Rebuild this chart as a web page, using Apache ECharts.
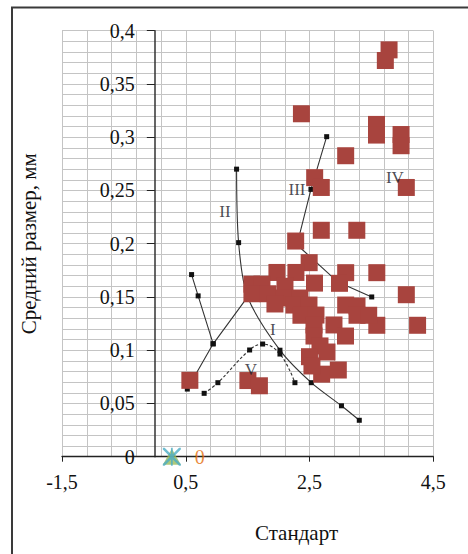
<!DOCTYPE html>
<html><head><meta charset="utf-8">
<script src="https://cdn.jsdelivr.net/npm/echarts/dist/echarts.min.js"></script>
<style>html,body{margin:0;padding:0;background:#fff}#c{width:468px;height:554px}</style>
</head><body><div id="c"></div>
<script>
// ---- data ----
const xAxisTitle = 'Стандарт';
const yAxisTitle = 'Средний размер, мм';
const xMin = -1.5, xMax = 4.5, xStep = 2;
const yMin = 0, yMax = 0.4, yStep = 0.05;

const redSquares = [
  [3.785,0.382],[3.725,0.372],[2.369,0.322],[3.582,0.312],[3.582,0.302],
  [3.979,0.3025],[3.979,0.292],[3.084,0.2826],[2.583,0.262],[2.690,0.2528],
  [4.064,0.2528],[2.690,0.2126],[3.264,0.2126],[2.276,0.2025],[2.494,0.1822],
  [3.084,0.1728],[3.587,0.1728],[4.064,0.1521],[4.246,0.1234],[2.984,0.1628],
  [3.587,0.1234],[0.566,0.0717],[1.504,0.0715],[1.690,0.0666],
  [1.973,0.173],[2.280,0.173],[1.569,0.162],[1.731,0.162],[2.103,0.160],
  [2.580,0.163],[1.569,0.153],[1.828,0.153],[2.086,0.149],[2.345,0.149],
  [1.941,0.1434],[2.248,0.1424],[2.491,0.1424],[3.084,0.1424],[3.267,0.1415],
  [2.361,0.1328],[2.604,0.133],[3.267,0.1328],[3.456,0.1328],[2.572,0.1237],
  [2.895,0.1237],[2.572,0.1133],[3.081,0.1133],[2.669,0.104],[2.499,0.0939],
  [2.782,0.0983],[2.696,0.0775],[2.965,0.0814],[2.539,0.0852]
];
const curveII_I = [[1.321,0.270],[1.354,0.201],[1.50,0.150],[2.022,0.100],[2.528,0.0695],[3.016,0.0478],[3.304,0.0342]];
const curveLeftA = [[0.594,0.171],[0.700,0.151],[0.943,0.106]];
const curveLeftB = [[0.525,0.0635],[0.943,0.106],[1.50,0.150]];
const curveIII = [[2.777,0.3005],[2.523,0.251],[2.297,0.199],[2.96,0.164],[3.505,0.150]];
const curveV = [[0.797,0.0595],[1.019,0.0695],[1.532,0.1002],[1.742,0.1058],[2.022,0.0964],[2.264,0.0695]];
const zeroPoint = [[0.275,0]];
const curveNames = ['I','II','III','IV','V'];
const curveNameX = [1.908,1.132,2.297,3.88,1.553];
const curveNameY = [0.119,0.2298,0.251,0.2626,0.0823];

// ---- chart ----
const serif = "'Liberation Serif', 'Times New Roman', serif";
const fmt = v => String(Number(v.toFixed(2))).replace('.', ',');
const gridColor = '#c4c4c4';
const gridLeft = 62, gridRight = 34.7;
const plotW = 468 - gridLeft - gridRight;
// y axis crosses the x axis at x = 0
const yAxisShift = -plotW * (0 - xMin) / (xMax - xMin);
const chart = echarts.init(document.getElementById('c'), null, {renderer:'svg'});

const lineSeries = (data, smooth, dashed) => ({
  type:'line', data, smooth: smooth, symbol:'rect', symbolSize:5,
  itemStyle:{color:'#111'},
  lineStyle:{color:'#333', width:1.1, type: dashed ? [3,2] : 'solid'},
  z:2, silent:true
});

const asterisk = 'path://M0,0L2,0L10,8L18,0L20,0L20,2L12,10L20,18L20,20L18,20L10,12L2,20L0,20L0,18L8,10L0,2Z M9,0L11,0L11,20L9,20Z';

chart.setOption({
  animation:false,
  backgroundColor:'#fff',
  grid:{left:gridLeft, right:gridRight, top:30.7, bottom:97.3, containLabel:false, outerBoundsMode:'none'},
  xAxis:{
    type:'value', min:xMin, max:xMax, interval:xStep,
    axisLine:{show:true, onZero:true, lineStyle:{color:'#222', width:1.3}},
    axisTick:{show:true, length:5, lineStyle:{color:'#222'}},
    axisLabel:{margin:15, fontFamily:serif, fontSize:20, color:'#111', formatter:fmt},
    splitLine:{show:true, lineStyle:{color:gridColor, width:1}},
    minorTick:{show:false, splitNumber:5},
    minorSplitLine:{show:true, lineStyle:{color:gridColor, width:1}}
  },
  yAxis:{
    type:'value', min:yMin, max:yMax, interval:yStep, offset:yAxisShift,
    name:yAxisTitle, nameLocation:'middle', nameRotate:90, nameGap:115,
    nameTextStyle:{fontFamily:serif, fontSize:21, color:'#111'},
    axisLine:{show:true, onZero:false, lineStyle:{color:'#333', width:1.5}},
    axisTick:{show:true, length:8, lineStyle:{color:'#222'}},
    axisLabel:{margin:20, fontFamily:serif, fontSize:20, color:'#111', formatter:fmt},
    splitLine:{show:true, lineStyle:{color:gridColor, width:1}},
    minorTick:{show:false, splitNumber:5},
    minorSplitLine:{show:true, lineStyle:{color:gridColor, width:1}}
  },
  graphic:[
    {type:'rect', shape:{x:12, y:7.5, width:480, height:580}, style:{fill:'none', stroke:'#3a3a3a', lineWidth:2}, silent:true, z:100},
    {type:'text', x:296.5, y:533, style:{text:xAxisTitle, font:"21px 'Liberation Serif', serif", fill:'#111', textAlign:'center', textVerticalAlign:'middle'}}
  ],
  series:[
    lineSeries(curveLeftA, false, false),
    lineSeries(curveLeftB, false, false),
    lineSeries(curveII_I, 0.3, false),
    lineSeries(curveIII, false, false),
    lineSeries(curveV, 0.4, true),
    {type:'scatter', data:redSquares, symbol:'rect', symbolSize:17,
     itemStyle:{color:'#A8443E', opacity:1}, z:3, silent:true},
    {type:'scatter', data:zeroPoint, symbol:'triangle', symbolSize:[18,16],
     itemStyle:{color:'#9BBB59'}, z:4, silent:true},
    {type:'scatter', data:zeroPoint, symbol:asterisk, symbolSize:18,
     itemStyle:{color:'#4BACC6'}, z:5, silent:true,
     label:{show:true, position:'right', distance:14, formatter:p => String(p.value[1]),
            fontFamily:serif, fontSize:20, color:'#E46C0A'}},
    {type:'scatter', symbol:'circle', symbolSize:1, itemStyle:{color:'rgba(0,0,0,0)'}, z:6, silent:true,
     data: curveNames.map((n,i) => ({name:n, value:[curveNameX[i], curveNameY[i]]})),
     label:{show:true, position:'inside', formatter:'{b}', fontFamily:serif, fontSize:17, color:'#1c1c28'}}
  ]
});
</script>
</body></html>
